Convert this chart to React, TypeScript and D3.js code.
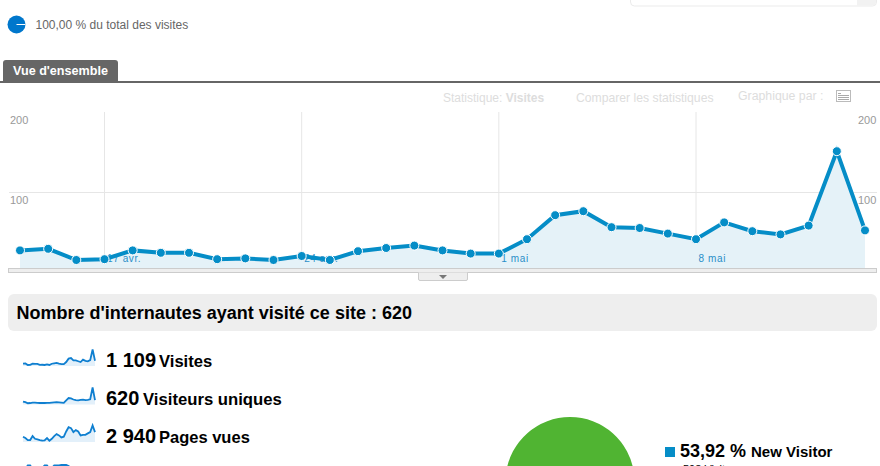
import * as React from 'react';
import * as d3 from "d3";

const visits = [27, 29, 15, 16, 27, 24, 24, 16, 17, 15, 20, 15, 26, 30, 33, 27, 23, 23, 41, 71, 76, 56, 55, 48, 41, 62, 51, 47, 58, 151, 52];
const uniques = [19, 16, 11, 12, 14, 14, 13, 12, 12, 12, 13, 13, 14, 15, 16, 15, 14, 13, 25, 36, 34, 29, 26, 25, 27, 28, 26, 27, 30, 87, 26];
const pageViews = [77, 60, 34, 34, 85, 51, 43, 34, 26, 30, 60, 26, 51, 85, 111, 94, 68, 77, 145, 200, 188, 137, 162, 145, 94, 102, 102, 120, 137, 222, 137];
const pagesPerVisit = [2.6, 2.9, 3.5, 3.5, 2.8, 2.6, 2.5, 2.7, 3.0, 3.5, 3.5, 2.9, 3.0, 3.5, 3.5, 3.5, 3.6, 3.6, 3.6, 3.4, 3.0, 2.9, 2.8, 3.0, 2.3, 1.6, 2.0, 2.5, 2.4, 1.5, 2.6];

const dateTicks = [3, 10, 17, 24];
const dateLabels = ["17 avr.", "24 avr.", "1 mai", "8 mai"];
const yTicks = [100, 200];

const pieLabels = ["New Visitor", "Returning Visitor"];
const pieValues = [53.92, 46.08];
const pieColors = ["#058dc7", "#50b432"];

const FONT = "'Liberation Sans', Arial, sans-serif";

const x = d3.scaleLinear().domain([0, 30]).range([20, 865]);
const y = d3.scaleLinear().domain([0, 200]).range([272, 112]);
const CHART_FLOOR = 268;

const line = d3.line<number>().x((_, i) => x(i)).y(d => y(d));
const area = d3.area<number>().x((_, i) => x(i)).y0(CHART_FLOOR).y1(d => y(d));

function Sparkline(props: { values: number[], max: number, bottom: number, top: number, floor: number }) {
    let { values, max, bottom, top, floor } = props;
    let sx = d3.scaleLinear().domain([0, values.length - 1]).range([23, 95]);
    let sy = d3.scaleLinear().domain([0, max]).range([bottom, top]);
    let sLine = d3.line<number>().x((_, i) => sx(i)).y(d => sy(d));
    let sArea = d3.area<number>().x((_, i) => sx(i)).y0(floor).y1(d => sy(d));
    return (
        <g>
            <path d={sArea(values) || undefined} fill="#e3f0fa" />
            <path d={sLine(values) || undefined} fill="none" stroke="#0f7fd0" strokeWidth={1.8} />
        </g>
    );
}

function Pie() {
    let start = 83 * Math.PI / 180;
    let arcs = d3.pie<number>().sort(null).startAngle(start).endAngle(start + 2 * Math.PI)(pieValues);
    let arc = d3.arc<d3.PieArcDatum<number>>().innerRadius(0).outerRadius(64.5);
    return (
        <g transform="translate(570,481.5)">
            {arcs.map((a, i) => <path key={pieLabels[i]} d={arc(a) || undefined} fill={pieColors[i]} />)}
        </g>
    );
}

export default function App() {
    return (
        <svg width={880} height={466} style={{ position: "absolute", left: 0, top: 0, display: "block", fontFamily: FONT }}>
            <rect x={0} y={0} width={880} height={466} fill="#fff" />

            {/* top right box */}
            <rect x={630.5} y={-10} width={246} height={16} rx={4} fill="#fff" stroke="#ebebeb" />
            <path d="M857 0V5.5H872.5Q876 5.5 876 2V0Z" fill="#f2f2f2" />

            <circle cx={16.5} cy={24.5} r={9} fill="#0077cc" />
            <rect x={16.5} y={24} width={9} height={1} fill="#fff" />
            <text x={35.5} y={29} fontSize={12} fill="#666">100,00 % du total des visites</text>

            <path d="M3 81V63Q3 60 6 60H115Q118 60 118 63V81Z" fill="#666" />
            <text x={13} y={75} fontSize={12.6} fontWeight="bold" fill="#fff">Vue d'ensemble</text>
            <rect x={0} y={81} width={880} height={2} fill="#666" />

            <text x={443} y={102} fontSize={12} fill="#ddd">Statistique: <tspan fontWeight="bold">Visites</tspan></text>
            <text x={576} y={102} fontSize={12.2} fill="#ddd">Comparer les statistiques</text>
            <text x={738} y={100} fontSize={12.3} fill="#ddd">Graphique par :</text>
            <rect x={836.5} y={90.5} width={14} height={11} fill="#fff" stroke="#bbb" />
            <path d="M838 93.5H841M838 95.5H849M838 97.5H849M838 99.5H849" stroke="#aaa" fill="none" />

            {/* grid */}
            {dateTicks.map(t => <line key={t} x1={x(t)} x2={x(t)} y1={112} y2={CHART_FLOOR} stroke="#e6e6e6" />)}
            <line x1={9} x2={877} y1={y(100) + 0.5} y2={y(100) + 0.5} stroke="#e6e6e6" />

            {yTicks.map(t => (
                <g key={t} fontSize={11} fill="#999">
                    <text x={10} y={y(t) + 12}>{t}</text>
                    <text x={858} y={y(t) + 12}>{t}</text>
                </g>
            ))}

            <path d={area(visits) || undefined} fill="#e5f2f8" />

            {dateTicks.map((t, i) => (
                <text key={t} x={x(t) + 2.5} y={262} fontSize={10} letterSpacing={0.6} fill="#2a8fc8">{dateLabels[i]}</text>
            ))}

            <rect x={8.5} y={268.5} width={868} height={4} fill="#eee" stroke="#ccc" />
            <path d="M418.5 272.5V279Q418.5 280.5 420 280.5H466Q467.5 280.5 467.5 279V272.5" fill="#eee" stroke="#ccc" />
            <path d="M439 275H447L443 279Z" fill="#777" />

            <path d={line(visits) || undefined} fill="none" stroke="#058dc7" strokeWidth={4} />
            {visits.map((v, i) => (
                <circle key={i} cx={x(i)} cy={y(v)} r={4.5} fill="#058dc7" stroke="#fff" strokeWidth={1} />
            ))}

            {/* summary */}
            <rect x={8} y={294} width={869} height={37} rx={6} fill="#eee" />
            <text x={16.5} y={319} fontSize={18} fontWeight="bold" fill="#000">Nombre d'internautes ayant visité ce site : 620</text>

            <Sparkline values={visits} max={151} bottom={366.7} top={349.5} floor={366} />
            <Sparkline values={uniques} max={87} bottom={405.5} top={387.5} floor={404.5} />
            <Sparkline values={pageViews} max={222} bottom={442.7} top={425.5} floor={442} />
            <Sparkline values={pagesPerVisit} max={4} bottom={483} top={463} floor={483} />

            <g fontWeight="bold" fill="#000">
                <text x={106} y={367} fontSize={20}>1 109</text>
                <text x={159} y={367} fontSize={16.6}>Visites</text>
                <text x={106} y={405} fontSize={20}>620</text>
                <text x={143} y={405} fontSize={16.7}>Visiteurs uniques</text>
                <text x={106} y={443} fontSize={20}>2 940</text>
                <text x={159} y={443} fontSize={16.5}>Pages vues</text>
            </g>

            <Pie />

            <rect x={665} y={447} width={10} height={10} fill={pieColors[0]} />
            <text x={680} y={457} fontWeight="bold" fontSize={18} fill="#000">53,92 %</text>
            <text x={751} y={457} fontWeight="bold" fontSize={15} fill="#000">{pieLabels[0]}</text>
            <text x={683} y={473} fontSize={11} fill="#000">598 Visites</text>
        </svg>
    );
}
